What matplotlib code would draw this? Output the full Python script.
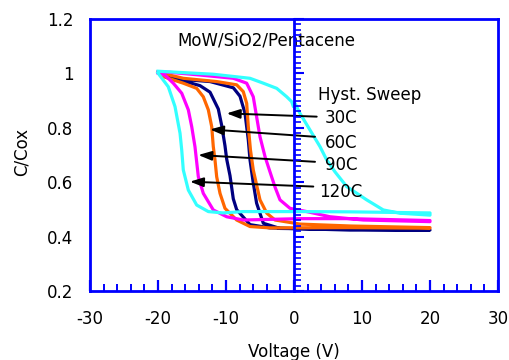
import matplotlib
matplotlib.use("Agg")
import matplotlib.pyplot as plt
from matplotlib.ticker import MultipleLocator, FuncFormatter

plt.rcParams['font.family'] = ['DejaVu Sans']
plt.rcParams['axes.unicode_minus'] = False

# ---- data: C/Cox hysteresis loops (forward sweep then return sweep) ----
v_30_fwd = [-20, -16.53, -12.35, -8.92, -7.94, -7.21, -6.72, -6.47, -5.99, -5.5, -4.51, -2.06, 3.82, 20]
c_30_fwd = [1.004, 0.978, 0.970, 0.947, 0.916, 0.854, 0.755, 0.682, 0.597, 0.523, 0.449, 0.430, 0.428, 0.424]
v_30_ret = [20, 8.24, -3.53, -6.47, -8.43, -8.93, -9.41, -9.9, -10.15, -10.63, -11.13, -12.35, -13.82, -16.53, -20]
c_30_ret = [0.424, 0.424, 0.432, 0.444, 0.499, 0.539, 0.624, 0.685, 0.734, 0.808, 0.869, 0.931, 0.955, 0.974, 1.004]

v_60_fwd = [-20, -16.28, -11.37, -8.43, -7.46, -6.96, -6.72, -6.4, -5.99, -5.5, -5.0, -4.0, -2.79, 0.88, 8.24, 20]
c_60_fwd = [1.004, 0.982, 0.970, 0.958, 0.933, 0.890, 0.804, 0.718, 0.645, 0.590, 0.535, 0.486, 0.461, 0.446, 0.439, 0.433]
v_60_ret = [20, 8.24, -3.53, -6.47, -8.43, -10.15, -10.88, -11.37, -11.62, -11.87, -12.1, -12.6, -13.34, -14.31, -16.28, -19.22, -20]
c_60_ret = [0.431, 0.433, 0.432, 0.437, 0.461, 0.504, 0.559, 0.620, 0.682, 0.731, 0.804, 0.866, 0.914, 0.945, 0.964, 0.988, 1.004]

v_90_fwd = [-20, -18.24, -13.82, -8.92, -6.96, -5.99, -5.5, -5.0, -4.26, -3.53, -2.79, -2.06, -0.59, 1.87, 5.29, 10.19, 20]
c_90_fwd = [1.004, 1.004, 0.994, 0.982, 0.964, 0.914, 0.841, 0.767, 0.694, 0.638, 0.582, 0.535, 0.504, 0.492, 0.473, 0.461, 0.455]
v_90_ret = [20, 8.24, 0.88, -7.46, -9.9, -11.87, -13.34, -14.07, -14.56, -15.04, -15.54, -16.51, -17.75, -19.0, -20]
c_90_ret = [0.459, 0.466, 0.466, 0.461, 0.473, 0.498, 0.559, 0.620, 0.730, 0.804, 0.866, 0.927, 0.964, 0.994, 1.001]

v_120_fwd = [-20, -11.91, -6.47, -4.51, -2.54, -1.07, -0.34, -0.1, 0.15, 0.88, 2.35, 3.82, 4.81, 6.03, 7.75, 10.69, 13.13, 15.59, 20]
c_120_fwd = [1.008, 0.997, 0.982, 0.964, 0.945, 0.914, 0.896, 0.878, 0.890, 0.853, 0.792, 0.731, 0.682, 0.638, 0.584, 0.535, 0.498, 0.486, 0.479]
v_120_ret = [20, 8.24, 0.88, -3.53, -7.5, -10.44, -12.6, -14.31, -15.54, -16.28, -16.51, -16.76, -17.5, -18.49, -20]
c_120_ret = [0.487, 0.491, 0.492, 0.492, 0.492, 0.487, 0.492, 0.516, 0.571, 0.645, 0.718, 0.780, 0.878, 0.951, 1.001]

temps = ["30C", "60C", "90C", "120C"]
colors = ["#000080", "#FF6600", "#FF00FF", "#33FFFF"]

arrow_tail_v = [3.34, 3.09, 3.09, 2.84]
arrow_tail_c = [0.841, 0.767, 0.675, 0.584]
arrow_head_v = [-9.9, -12.35, -14.07, -15.3]
arrow_head_c = [0.853, 0.794, 0.700, 0.602]
label_v = [4.56, 4.56, 4.56, 3.73]
label_c = [0.835, 0.745, 0.663, 0.565]

x_ticks = [-30, -20, -10, 0, 10, 20, 30]
y_ticks = [0.2, 0.4, 0.6, 0.8, 1.0, 1.2]

loops = [
    (v_30_fwd + v_30_ret, c_30_fwd + c_30_ret),
    (v_60_fwd + v_60_ret, c_60_fwd + c_60_ret),
    (v_90_fwd + v_90_ret, c_90_fwd + c_90_ret),
    (v_120_fwd + v_120_ret, c_120_fwd + c_120_ret),
]

blue = "#0000FF"
fs = 12

fig = plt.figure(figsize=(5.1, 3.6), dpi=100)
pos = [90 / 510, 69 / 360, 408 / 510, 272 / 360]
ax = fig.add_axes(pos)

for (v, c), col in zip(loops, colors):
    ax.plot(v, c, color=col, lw=2.3, solid_joinstyle='round')

ax.set_xlim(-30, 30)
ax.set_ylim(0.2, 1.2)
ax.set_xticks(x_ticks)
ax.set_yticks(y_ticks)
ax.xaxis.set_minor_locator(MultipleLocator(2))
ax.yaxis.set_major_formatter(FuncFormatter(lambda v, p: f"{v:g}"))
ax.tick_params(axis='x', which='major', direction='in', length=8, width=1.6,
               color=blue, pad=14, labelsize=fs)
ax.tick_params(axis='x', which='minor', direction='in', length=5, width=1.4, color=blue)
ax.tick_params(axis='y', which='both', length=0, pad=12, labelsize=fs)
for s in ax.spines.values():
    s.set_color(blue)
    s.set_linewidth(2)

ax.set_xlabel("Voltage (V)", fontsize=fs)
ax.set_ylabel("C/Cox", fontsize=fs)
ax.xaxis.set_label_coords(0.5, -0.19)
ax.yaxis.set_label_coords(-0.145, 0.51)

# central vertical axis at V = 0
ax2 = fig.add_axes(pos, sharex=ax, sharey=ax)
ax2.patch.set_visible(False)
for k in ['top', 'right', 'bottom']:
    ax2.spines[k].set_visible(False)
ax2.spines['left'].set_position(('data', 0))
ax2.spines['left'].set_color(blue)
ax2.spines['left'].set_linewidth(2)
ax2.yaxis.set_minor_locator(MultipleLocator(0.02))
ax2.tick_params(axis='y', which='major', direction='in', length=7, width=1.5,
                color=blue, labelleft=False)
ax2.tick_params(axis='y', which='minor', direction='in', length=5, width=1.2, color=blue)
ax2.tick_params(axis='x', which='both', bottom=False, labelbottom=False)

ax.text(-17.2, 1.12, "MoW/SiO2/Pentacene", fontsize=fs, ha='left', va='center')
ax.text(3.58, 0.921, "Hyst. Sweep", fontsize=fs, ha='left', va='center')
for t, tv, tc, hv, hc, lv, lc in zip(temps, arrow_tail_v, arrow_tail_c,
                                     arrow_head_v, arrow_head_c, label_v, label_c):
    ax.annotate("", xy=(hv, hc), xytext=(tv, tc),
                arrowprops=dict(arrowstyle='-|>,head_length=0.8,head_width=0.28',
                                color='black', lw=1.4, shrinkA=0, shrinkB=0))
    ax.text(lv, lc, t, fontsize=fs, ha='left', va='center')

fig.savefig("out.png", dpi=100)
